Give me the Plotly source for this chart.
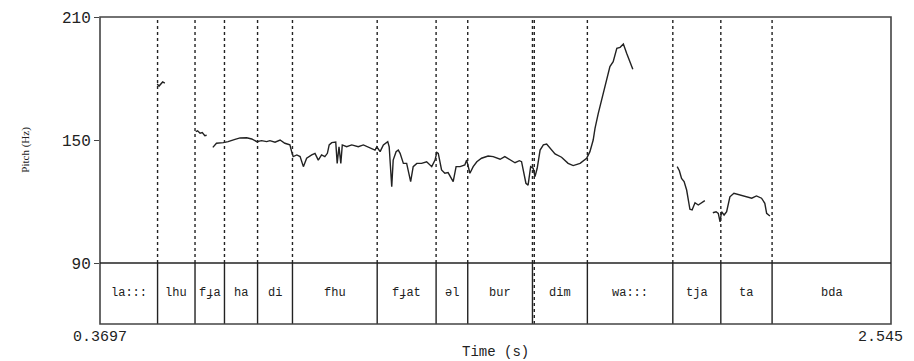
import plotly.graph_objects as go

# time range of the recording (s)
T_START = 0.3697
T_END = 2.545

# pitch contour, voiced stretches separated by None
time_s = [
    0.527, 0.532, 0.542, 0.548, None,
    0.633, 0.638, 0.645, 0.651, 0.658, 0.663, None,
    0.680, 0.690, 0.709, 0.722, 0.741, 0.755, 0.773, 0.787, 0.801, 0.814,
    0.828, 0.837, 0.851, 0.865, 0.878, 0.892, 0.897, 0.901, 0.911, 0.920,
    0.929, 0.938, 0.952, 0.961, 0.970, 0.979, 0.988, 0.995, 1.000, 1.007,
    1.018, 1.022, 1.027, 1.032, 1.036, 1.048, 1.062, 1.080, 1.094, 1.112,
    1.126, 1.131, 1.140, 1.149, 1.161, 1.165, 1.172, 1.176, 1.184, 1.190,
    1.195, 1.204, 1.213, 1.224, 1.231, 1.241, 1.254, 1.268, 1.282, 1.291,
    1.296, 1.300, 1.309, 1.318, 1.327, 1.341, 1.349, 1.360, 1.373, 1.378,
    1.387, 1.396, 1.406, 1.419, 1.437, 1.451, 1.470, 1.483, 1.497, 1.511,
    1.523, 1.529, 1.541, 1.547, 1.554, 1.561, 1.566, 1.572, 1.580, 1.589,
    1.598, 1.607, 1.621, 1.639, 1.657, 1.671, 1.690, 1.708, 1.717, 1.726,
    1.731, 1.740, 1.754, 1.763, 1.772, 1.781, 1.791, 1.800, 1.809, 1.818,
    1.827, 1.835, None,
    1.957, 1.963, 1.969, 1.976, 1.983, 1.988, 1.992, 1.998, 2.006, 2.015,
    2.024, 2.033, None,
    2.055, 2.064, 2.070, 2.075, 2.079, 2.086, 2.093, 2.102, 2.113, 2.130,
    2.148, 2.162, 2.175, 2.189, 2.198, 2.203, 2.212,
]
pitch_hz = [
    177.3, 176.3, 178.3, 177.7, None,
    154.1, 154.5, 153.3, 153.6, 152.1, 152.3, None,
    146.4, 148.4, 148.7, 149.2, 150.3, 151.0, 151.1, 150.5, 149.2, 149.7,
    149.2, 149.7, 148.9, 150.0, 148.4, 147.6, 144.1, 141.9, 142.7, 141.9,
    137.0, 141.1, 142.7, 143.5, 140.2, 142.7, 141.9, 143.5, 147.6, 148.7,
    149.0, 138.6, 146.7, 138.6, 147.6, 146.7, 147.6, 146.7, 147.6, 146.0,
    145.1, 146.7, 144.3, 147.6, 149.2, 146.7, 127.2, 140.2, 144.3, 145.1,
    143.5, 138.6, 138.6, 129.7, 137.0, 138.6, 138.6, 139.4, 137.0, 140.2,
    144.0, 143.5, 135.4, 133.8, 134.1, 129.7, 137.0, 137.0, 137.8, 140.2,
    133.8, 137.0, 139.4, 141.1, 142.2, 141.9, 140.6, 141.9, 140.2, 138.9,
    139.9, 139.4, 128.9, 128.0, 137.0, 136.2, 132.1, 136.2, 145.1, 147.6,
    148.0, 146.0, 143.2, 141.6, 138.6, 137.5, 138.6, 141.1, 144.3, 150.0,
    155.7, 163.0, 172.8, 179.3, 185.8, 188.2, 194.7, 195.2, 196.8, 192.3,
    188.2, 184.5, None,
    137.0, 135.0, 131.3, 129.7, 125.6, 120.7, 116.2, 115.9, 119.4, 118.3,
    119.4, 120.4, None,
    114.5, 115.0, 114.2, 110.1, 115.0, 113.4, 115.0, 122.3, 124.0, 123.2,
    122.0, 121.6, 122.7, 121.6, 119.1, 114.2, 112.9,
]

# syllable tier
boundaries = [0.528, 0.631, 0.712, 0.803, 0.899, 1.132, 1.294, 1.381,
              1.559, 1.710, 1.945, 2.077, 2.218]
extra_marks = [1.564]
syllables = ["la:::", "lhu", "fɟa", "ha", "di", "fhu", "fɟat", "əl", "bur",
             "dim", "wa:::", "tja", "ta", "bda"]

y_ticks = [90, 150, 210]
x_tick_text = ["0.3697", "2.545"]

TIER = 0.1987  # share of plot height used by the text tier
INK = "#222222"
FRAME = "#444444"
MONO = "Liberation Mono, Courier New, monospace"

fig = go.Figure()
fig.add_trace(go.Scatter(
    x=time_s, y=pitch_hz, mode="lines", connectgaps=False,
    line=dict(color=INK, width=1.4), hoverinfo="x+y", showlegend=False,
))

shapes = []
for b in boundaries:
    shapes.append(dict(type="line", xref="x", yref="y", x0=b, x1=b, y0=90, y1=210,
                       line=dict(color=INK, width=1.4, dash="3px,3px")))
    shapes.append(dict(type="line", xref="x", yref="y2", x0=b, x1=b, y0=0, y1=1,
                       line=dict(color=INK, width=1.4)))
for m in extra_marks:
    for yr, y0, y1 in (("y", 90, 210), ("y2", 0, 1)):
        shapes.append(dict(type="line", xref="x", yref=yr, x0=m, x1=m, y0=y0, y1=y1,
                           line=dict(color=INK, width=1.4, dash="3px,3px")))
# frame and tier separator
shapes.append(dict(type="rect", xref="paper", yref="paper", x0=0, x1=1, y0=0, y1=1,
                   line=dict(color=FRAME, width=1.6)))
shapes.append(dict(type="line", xref="paper", yref="paper", x0=0, x1=1, y0=TIER, y1=TIER,
                   line=dict(color=INK, width=1.4)))

edges = [T_START] + boundaries + [T_END]
annotations = []
for i, lab in enumerate(syllables):
    annotations.append(dict(
        x=(edges[i] + edges[i + 1]) / 2, y=0.5, xref="x", yref="y2",
        text=lab, showarrow=False, font=dict(family=MONO, size=12, color=INK),
    ))
# time range labels at the two ends (the right one kept inside the window)
annotations.append(dict(
    x=T_START, y=0, xref="x", yref="paper", yshift=-13, text=x_tick_text[0],
    showarrow=False, xanchor="center", yanchor="middle",
    font=dict(family=MONO, size=15, color=INK),
))
annotations.append(dict(
    x=T_END, y=0, xref="x", yref="paper", xshift=14, yshift=-13, text=x_tick_text[1],
    showarrow=False, xanchor="right", yanchor="middle",
    font=dict(family=MONO, size=15, color=INK),
))
annotations.append(dict(
    x=0.5, y=-0.09, xref="paper", yref="paper", text="Time (s)", showarrow=False,
    yanchor="middle", font=dict(family=MONO, size=14, color=INK),
))
annotations.append(dict(
    x=-0.105, y=(1 + TIER) / 2 - 0.03, xref="paper", yref="paper", text="Pitch (Hz)",
    showarrow=False, textangle=-90,
    font=dict(family="Liberation Serif, Times New Roman, serif", size=11, color=INK),
))

# the page adds an 8px body margin, so the figure is 8px smaller than the window
fig.update_layout(
    width=906, height=353,
    margin=dict(l=92, r=23, t=9, b=37),
    paper_bgcolor="white", plot_bgcolor="white",
    shapes=shapes, annotations=annotations,
    xaxis=dict(
        range=[T_START, T_END], anchor="y2", showgrid=False, zeroline=False,
        showline=False, ticks="", showticklabels=False, automargin=False,
    ),
    yaxis=dict(
        domain=[TIER, 1], range=[90, 210], tickvals=y_ticks,
        ticktext=[str(v) for v in y_ticks], ticks="outside", ticklen=5,
        tickcolor=FRAME, tickwidth=1.4, showgrid=False, zeroline=False,
        showline=False, tickfont=dict(family=MONO, size=16, color=INK),
        automargin=False,
    ),
    yaxis2=dict(
        domain=[0, TIER], range=[0, 1], showticklabels=False, ticks="",
        showgrid=False, zeroline=False, showline=False,
    ),
)

fig.write_html("out.html")
